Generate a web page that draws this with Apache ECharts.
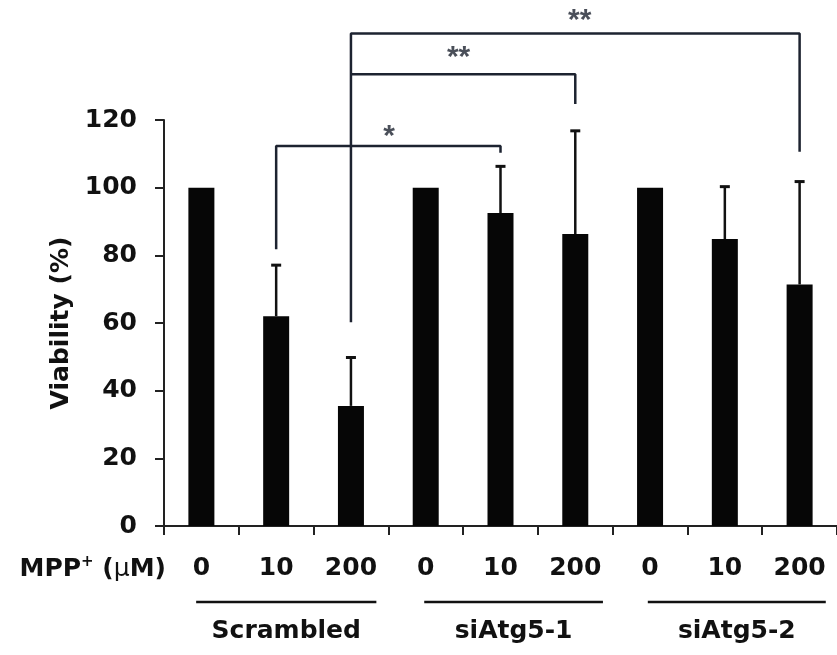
<!DOCTYPE html>
<html><head><meta charset="utf-8">
<script src="https://cdn.jsdelivr.net/npm/echarts@6/dist/echarts.min.js"></script>
<style>html,body{margin:0;padding:0;background:#fff}#c{width:837px;height:655px}</style>
</head><body><div id="c"></div>
<script>
// ---- data ----
const doses = ['0', '10', '200', '0', '10', '200', '0', '10', '200'];
const viability = [100, 62, 35.5, 100, 92.5, 86.3, 100, 84.8, 71.4];
const errUpper = [null, 77.1, 49.8, null, 106.3, 116.8, null, 100.3, 101.8];
const groups = ['Scrambled', 'siAtg5-1', 'siAtg5-2'];
const groupSpans = [[-0.07, 2.34], [2.98, 5.37], [5.97, 8.35]];
const yTickMin = 0, yTickMax = 120, yTickStep = 20;
// significance brackets (x in category index units, y in %)
const bracketA = [[1, 81.8], [1, 112.3], [4, 112.3], [4, 110.3]];
const bracketB = [[2, 133.5], [5, 133.5], [5, 124.7]];
const bracketC = [[2, 60.2], [2, 145.6], [8, 145.6], [8, 110.6]];
const starLabels = ['*', '**', '**'];
const starX = [2.51, 3.44, 5.06];
const starY = [115.0, 138.5, 149.3];

const FONT = '"DejaVu Sans", sans-serif';
const TXT = '#111111';
const BR = '#1d2330';

const errData = [];
errUpper.forEach((e, i) => { if (e !== null) errData.push({ value: [i, viability[i], e] }); });
const groupData = groupSpans.map((s, i) => ({ value: [s[0], s[1], i] }));
const starData = starLabels.map((s, i) => ({ name: s, value: [starX[i], starY[i]] }));

const chart = echarts.init(document.getElementById('c'), null, { renderer: 'canvas' });

const bracketSeries = (d) => ({
  type: 'line', xAxisIndex: 1, yAxisIndex: 0, data: d, symbol: 'none', clip: false,
  lineStyle: { color: BR, width: 2.5 }, silent: true, z: 5, animation: false
});

chart.setOption({
  animation: false,
  backgroundColor: '#ffffff',
  grid: { left: 164, right: 0, top: 120, bottom: 129, containLabel: false },
  xAxis: [
    {
      type: 'category', data: doses, boundaryGap: true,
      axisLine: { onZero: false, lineStyle: { color: '#222', width: 2 } },
      axisTick: { show: true, inside: false, length: 9, interval: 0, lineStyle: { color: '#222', width: 2 } },
      axisLabel: { interval: 0, margin: 30, color: TXT, fontSize: 25, fontWeight: 'bold', fontFamily: FONT },
      splitLine: { show: false }
    },
    { type: 'value', min: -0.5, max: 8.5, show: false }
  ],
  yAxis: {
    type: 'value', min: yTickMin, max: yTickMax, interval: yTickStep,
    name: 'Viability (%)', nameLocation: 'middle', nameGap: 76, nameRotate: 90,
    nameTextStyle: { color: TXT, fontSize: 25, fontWeight: 'bold', fontFamily: FONT },
    axisLine: { show: true, onZero: false, lineStyle: { color: '#222', width: 2 } },
    axisTick: { show: true, inside: false, length: 9, lineStyle: { color: '#222', width: 2 } },
    axisLabel: { margin: 27, color: TXT, fontSize: 25, fontWeight: 'bold', fontFamily: FONT },
    splitLine: { show: false }
  },
  graphic: [{
    type: 'text', x: 166, y: 569,
    style: {
      text: '{a|MPP}{s|+}{a| (}{m|μ}{a|M)}',
      align: 'right', verticalAlign: 'middle',
      rich: {
        a: { fontSize: 25, fontWeight: 'bold', fontFamily: FONT, fill: TXT, color: TXT },
        m: { fontSize: 25, fontWeight: 'normal', fontFamily: FONT, fill: TXT, color: TXT },
        s: { fontSize: 15, fontWeight: 'bold', fontFamily: FONT, fill: TXT, color: TXT, verticalAlign: 'top', padding: [0, 0, 14, 0] }
      }
    }
  }],
  series: [
    {
      type: 'bar', xAxisIndex: 0, yAxisIndex: 0, data: viability, barWidth: 26,
      itemStyle: { color: '#060606' }, z: 2
    },
    {
      type: 'custom', xAxisIndex: 1, yAxisIndex: 0, data: errData, z: 3, clip: false,
      encode: { x: 0, y: [1, 2] },
      renderItem: function (params, api) {
        const x = api.value(0);
        const p0 = api.coord([x, api.value(1)]);
        const p1 = api.coord([x, api.value(2)]);
        return {
          type: 'group', children: [
            { type: 'line', shape: { x1: p0[0], y1: p0[1], x2: p1[0], y2: p1[1] }, style: { stroke: '#111', lineWidth: 2.5 } },
            { type: 'line', shape: { x1: p1[0] - 5, y1: p1[1], x2: p1[0] + 5, y2: p1[1] }, style: { stroke: '#111', lineWidth: 3 } }
          ]
        };
      }
    },
    bracketSeries(bracketA),
    bracketSeries(bracketB),
    bracketSeries(bracketC),
    {
      type: 'scatter', xAxisIndex: 1, yAxisIndex: 0, data: starData, symbolSize: 1, clip: false,
      itemStyle: { color: 'rgba(0,0,0,0)' },
      label: { show: true, position: 'inside', formatter: '{b}', color: BR, fontSize: 30, fontWeight: 'bold', fontFamily: '"Liberation Sans", Arial, sans-serif' },
      z: 6
    },
    {
      type: 'custom', xAxisIndex: 1, yAxisIndex: 0, data: groupData, clip: false, z: 4,
      encode: { x: [0, 1] },
      renderItem: function (params, api) {
        const a = api.coord([api.value(0), 0]);
        const b = api.coord([api.value(1), 0]);
        const idx = api.value(2);
        return {
          type: 'group', children: [
            { type: 'line', shape: { x1: a[0], y1: a[1] + 76, x2: b[0], y2: b[1] + 76 }, style: { stroke: '#111', lineWidth: 2.5 } },
            { type: 'text', x: (a[0] + b[0]) / 2, y: a[1] + 105,
              style: { text: groups[idx], align: 'center', verticalAlign: 'middle', fontSize: 25, fontWeight: 'bold', fontFamily: FONT, fill: TXT } }
          ]
        };
      }
    }
  ]
});
</script>
</body></html>
